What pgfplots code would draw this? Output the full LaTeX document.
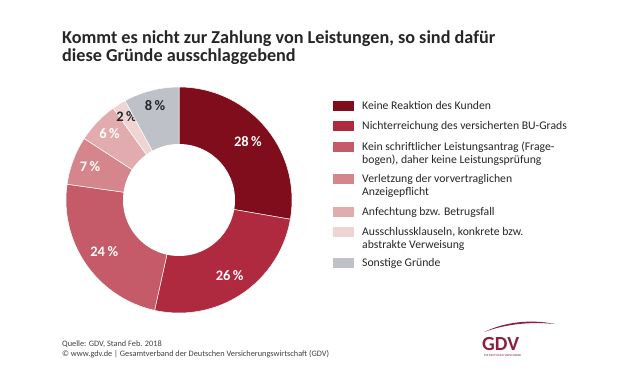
\documentclass[border=0pt]{standalone}
\usepackage{pgfplots}
\pgfplotsset{compat=1.18}
\usepackage{fontspec}
\setmainfont{Carlito}
\definecolor{c1}{HTML}{7F0D1B}
\definecolor{c2}{HTML}{AF2A3F}
\definecolor{c3}{HTML}{C55A68}
\definecolor{c4}{HTML}{D5868C}
\definecolor{c5}{HTML}{E2ABAE}
\definecolor{c6}{HTML}{EFD4D3}
\definecolor{c7}{HTML}{BEC1C8}
\definecolor{txt}{HTML}{262626}
\definecolor{ftxt}{HTML}{404040}
\definecolor{gdv}{HTML}{8C1F3F}

\tikzset{pct/.style={font=\fontsize{14.5}{15}\selectfont\bfseries, inner sep=0pt},
  lg/.style={anchor=base west, inner sep=0pt, text=txt, font=\fontsize{11.7}{13}\selectfont}}

\newcommand\slice[5]{%
 \pgfmathsetmacro\angA{90-(360/101)*#1}%
 \pgfmathsetmacro\angB{90-(360/101)*(#1+#2)}%
 \pgfmathsetmacro\angM{(\angA+\angB)/2}%
 \pgfmathsetmacro\lx{#5*cos(\angM)}%
 \pgfmathsetmacro\ly{#5*sin(\angM)}%
 \edef\doit{\noexpand\addplot[fill=#3, draw=white, line width=0.5pt, domain=\angB:\angA, samples=80, variable=\noexpand\t] ({113*cos(\noexpand\t)},{113*sin(\noexpand\t)}) -- (axis cs:0,0) -- cycle;%
 \noexpand\node[pct, text=#4] at (axis cs:\lx,\ly) {#2\noexpand\,\noexpand\%};}%
 \doit
}

\newcommand\legendrow[4]{% y (image), color, line 1, line 2
 \fill[#2] (333pt,{(383-#1-5)*1pt}) rectangle (354pt,{(383-#1+5)*1pt});
 \node[lg] at (362pt,{(383-#1-4)*1pt}) {#3};
 \node[lg] at (362pt,{(383-#1-4-13)*1pt}) {#4};
}

\begin{document}
\begin{tikzpicture}
\fill[white] (0,0) rectangle (621pt,383pt);
\path[use as bounding box] (0,0) rectangle (621pt,383pt);

% title
\node[anchor=base west, inner sep=0pt, text=txt, font=\fontsize{18.2}{18}\selectfont\bfseries] at (62pt,339.5pt) {Kommt es nicht zur Zahlung von Leistungen, so sind dafür};
\node[anchor=base west, inner sep=0pt, text=txt, font=\fontsize{18.2}{18}\selectfont\bfseries] at (62pt,321.5pt) {diese Gründe ausschlaggebend};

\begin{axis}[at={(179pt,183pt)}, anchor=center, x=1pt, y=1pt,
  xmin=-115, xmax=115, ymin=-115, ymax=115, hide axis, clip=false, scale only axis]
\slice{0}{28}{c1}{white}{90}
\slice{28}{26}{c2}{white}{91}
\slice{54}{24}{c3}{white}{91}
\slice{78}{7}{c4}{white}{95}
\slice{85}{6}{c5}{white}{96}
\slice{91}{2}{c6}{txt}{99}
\slice{93}{8}{c7}{txt}{97}
\addplot[fill=white, draw=none, domain=0:360, samples=120, variable=\t] ({56*cos(\t)},{56*sin(\t)}) -- cycle;
\end{axis}

% legend
\legendrow{106}{c1}{Keine Reaktion des Kunden}{}
\legendrow{126}{c2}{Nichterreichung des versicherten BU-Grads}{}
\legendrow{147}{c3}{Kein schriftlicher Leistungsantrag (Frage-}{bogen), daher keine Leistungsprüfung}
\legendrow{179}{c4}{Verletzung der vorvertraglichen}{Anzeigepflicht}
\legendrow{212}{c5}{Anfechtung bzw. Betrugsfall}{}
\legendrow{232}{c6}{Ausschlussklauseln, konkrete bzw.}{abstrakte Verweisung}
\legendrow{263}{c7}{Sonstige Gründe}{}

% footer
\node[anchor=base west, inner sep=0pt, text=ftxt, font=\fontsize{8.3}{10}\selectfont] at (62pt,37pt) {Quelle: GDV, Stand Feb. 2018};
\node[anchor=base west, inner sep=0pt, text=ftxt, font=\fontsize{8.3}{10}\selectfont] at (62pt,26.5pt) {© www.gdv.de | Gesamtverband der Deutschen Versicherungswirtschaft (GDV)};

% logo
\fill[gdv] (484pt,51pt) .. controls (505pt,61pt) and (530pt,64pt) .. (555pt,59pt)
  .. controls (530pt,61.5pt) and (506pt,59pt) .. (484pt,51pt) -- cycle;
\node[anchor=base west, inner sep=0pt, text=gdv, font=\fontsize{20}{20}\selectfont\bfseries] at (482pt,33pt) {GDV};
\node[anchor=base west, inner sep=0pt, text=gdv, font=\fontsize{3}{3}\selectfont] at (484pt,27pt) {DIE DEUTSCHEN VERSICHERER};
\end{tikzpicture}
\end{document}
